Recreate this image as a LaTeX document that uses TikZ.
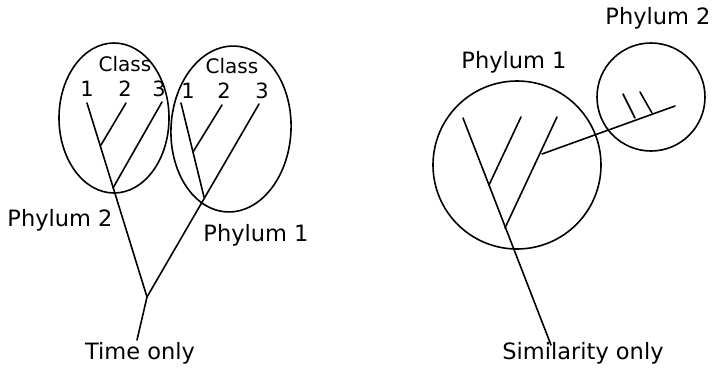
\documentclass[tikz,border=0pt]{standalone}
\usepackage{fontspec}
\setmainfont{DejaVu Sans}
\begin{document}
\begin{tikzpicture}[x=1pt,y=-1pt,
  ln/.style={line width=1.6pt,line cap=round},
  lbl/.style={font=\fontsize{22.5}{24}\selectfont,inner sep=0pt},
  cls/.style={font=\fontsize{20}{22}\selectfont,inner sep=0pt},
  num/.style={font=\fontsize{21}{23}\selectfont,inner sep=0pt}]
\useasboundingbox (0,0) rectangle (712,383);
% ---------- left: Time only ----------
\draw[ln] (114,118) ellipse [x radius=55,y radius=75];
\draw[ln] (231,129) [rotate around={-3:(231,129)}] ellipse [x radius=60,y radius=83];
\node[cls] (c1) at (125,64) {Class};
\node[cls] (c2) at (232,66) {Class};
\node[num] (a1) at (87,89) {1};
\node[num] (a2) at (125,89) {2};
\node[num] (a3) at (159,89) {3};
\node[num] (b1) at (188,91) {1};
\node[num] (b2) at (224,91) {2};
\node[num] (b3) at (262,91) {3};
\coordinate (la1) at (87,103);
\coordinate (la2) at (126,103);
\coordinate (la3) at (162,102);
\coordinate (lj2) at (101,145);
\coordinate (lj3) at (113,188);
\coordinate (rb1) at (181,103);
\coordinate (rb2) at (222,105);
\coordinate (rb3) at (259,104);
\coordinate (rj2) at (193,152);
\coordinate (rj1) at (204,197);
\coordinate (root) at (147,297);
\coordinate (base) at (137,340);
\draw[ln] (la1) -- (root);
\draw[ln] (la2) -- (lj2);
\draw[ln] (la3) -- (lj3);
\draw[ln] (rb3) -- (root);
\draw[ln] (rb1) -- (rj1);
\draw[ln] (rb2) -- (rj2);
\draw[ln] (root) -- (base);
\node[lbl] (p2) at (60,220) {Phylum 2};
\node[lbl] (p1) at (256,235) {Phylum 1};
\node[lbl] (t) at (140,353) {Time only};
% ---------- right: Similarity only ----------
\draw[ln] (517,165) circle [radius=84];
\draw[ln] (651,97) circle [radius=54];
\node[lbl] (q1) at (514,62) {Phylum 1};
\node[lbl] (q2) at (658,18) {Phylum 2};
\coordinate (s0) at (463,118);
\coordinate (sb) at (551,345);
\coordinate (s1) at (521,117);
\coordinate (s1j) at (489,185);
\coordinate (s2) at (557,117);
\coordinate (s2j) at (505,228);
\coordinate (s3j) at (542,154);
\coordinate (s3) at (675,106);
\coordinate (t1) at (623,94);
\coordinate (t1j) at (635,118);
\coordinate (t2) at (640,92);
\coordinate (t2j) at (652,113);
\draw[ln] (s0) -- (sb);
\draw[ln] (s1) -- (s1j);
\draw[ln] (s2) -- (s2j);
\draw[ln] (s3j) -- (s3);
\draw[ln] (t1) -- (t1j);
\draw[ln] (t2) -- (t2j);
\node[lbl] (sim) at (583,353) {Similarity only};
\end{tikzpicture}
\end{document}
